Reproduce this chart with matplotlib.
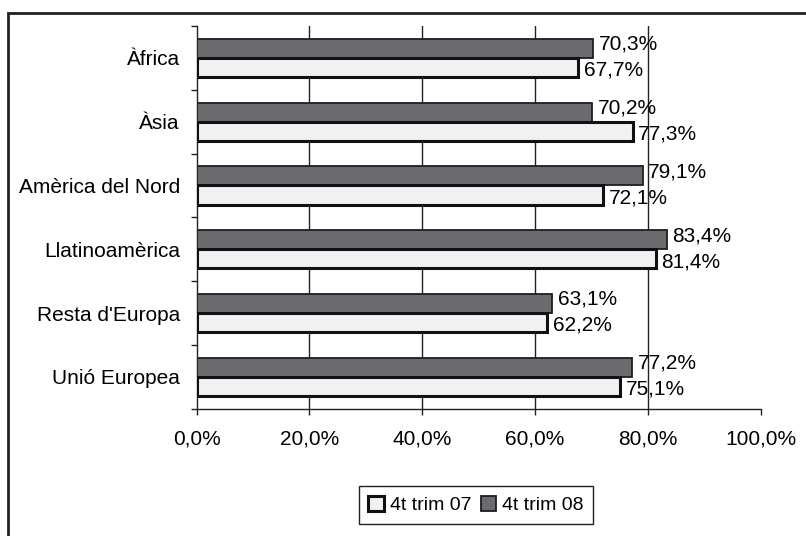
import matplotlib
matplotlib.use('Agg')
import matplotlib.pyplot as plt
import numpy as np
from matplotlib.patches import Rectangle, Patch

categories = ["Àfrica", "Àsia", "Amèrica del Nord", "Llatinoamèrica", "Resta d'Europa", "Unió Europea"]
trim07 = [67.7, 77.3, 72.1, 81.4, 62.2, 75.1]
trim08 = [70.3, 70.2, 79.1, 83.4, 63.1, 77.2]
series_labels = ["4t trim 07", "4t trim 08"]
xticks = [0, 20, 40, 60, 80, 100]
xticklabels = ["0,0%", "20,0%", "40,0%", "60,0%", "80,0%", "100,0%"]

plt.rcParams['font.family'] = ['Liberation Sans', 'DejaVu Sans']

fig = plt.figure(figsize=(8.06, 5.36), dpi=100)
ax = fig.add_axes([0.2438, 0.2375, 0.6998, 0.714])

n = len(categories)
y = np.arange(n)[::-1]
h = 0.3
dark = '#6a6b6f'
light = '#f0f1f3'

ax.barh(y + h / 2, trim08, height=h, color=dark, edgecolor='#1e1e1e', linewidth=1.3, zorder=3)
ax.barh(y - h / 2, trim07, height=h, color=light, edgecolor='#111111', linewidth=2.2, zorder=3)

for v in xticks[1:-1]:
    ax.axvline(v, color='#222222', lw=1, zorder=1)

ax.set_xlim(0, 100)
ax.set_ylim(-0.5, n - 0.5)
for s in ['top', 'right']:
    ax.spines[s].set_visible(False)
for s in ['left', 'bottom']:
    ax.spines[s].set_color('#222222')
    ax.spines[s].set_linewidth(1)

ax.set_yticks(y)
ax.set_yticklabels(categories)
ax.set_yticks(np.arange(-0.5, n, 1), minor=True)
ax.tick_params(axis='y', which='major', length=0, pad=12, labelsize=15)
ax.tick_params(axis='y', which='minor', length=4.3, width=1, color='#222222')
ax.set_xticks(xticks)
ax.set_xticklabels(xticklabels)
ax.tick_params(axis='x', length=4.3, width=1, pad=11, labelsize=15, color='#222222')

def fmt(v):
    return f"{v:.1f}".replace('.', ',') + '%'

for yy, v in zip(y, trim08):
    ax.annotate(fmt(v), xy=(v, yy + h / 2), xytext=(4, 3), textcoords='offset points',
                ha='left', va='center', fontsize=15, zorder=4)
for yy, v in zip(y, trim07):
    ax.annotate(fmt(v), xy=(v, yy - h / 2), xytext=(4, -2), textcoords='offset points',
                ha='left', va='center', fontsize=15, zorder=4)

handles = [Patch(facecolor=light, edgecolor='#111111', linewidth=2.2),
           Patch(facecolor=dark, edgecolor='#1e1e1e', linewidth=1.3)]
leg = fig.legend(handles, series_labels, loc='center', bbox_to_anchor=(0.5906, 0.058), ncol=2,
                 frameon=True, fancybox=False, edgecolor='#222222', framealpha=1, fontsize=14,
                 handlelength=0.8, handleheight=0.8, handletextpad=0.3, columnspacing=0.5,
                 borderpad=0.5)
leg.get_frame().set_linewidth(1)

fig.patches.append(Rectangle((8 / 806, -0.1), 1.2, 0.1 + 1 - 13.3 / 536, transform=fig.transFigure,
                             fill=False, edgecolor='#222222', linewidth=2))

fig.savefig('out.png', dpi=100)
